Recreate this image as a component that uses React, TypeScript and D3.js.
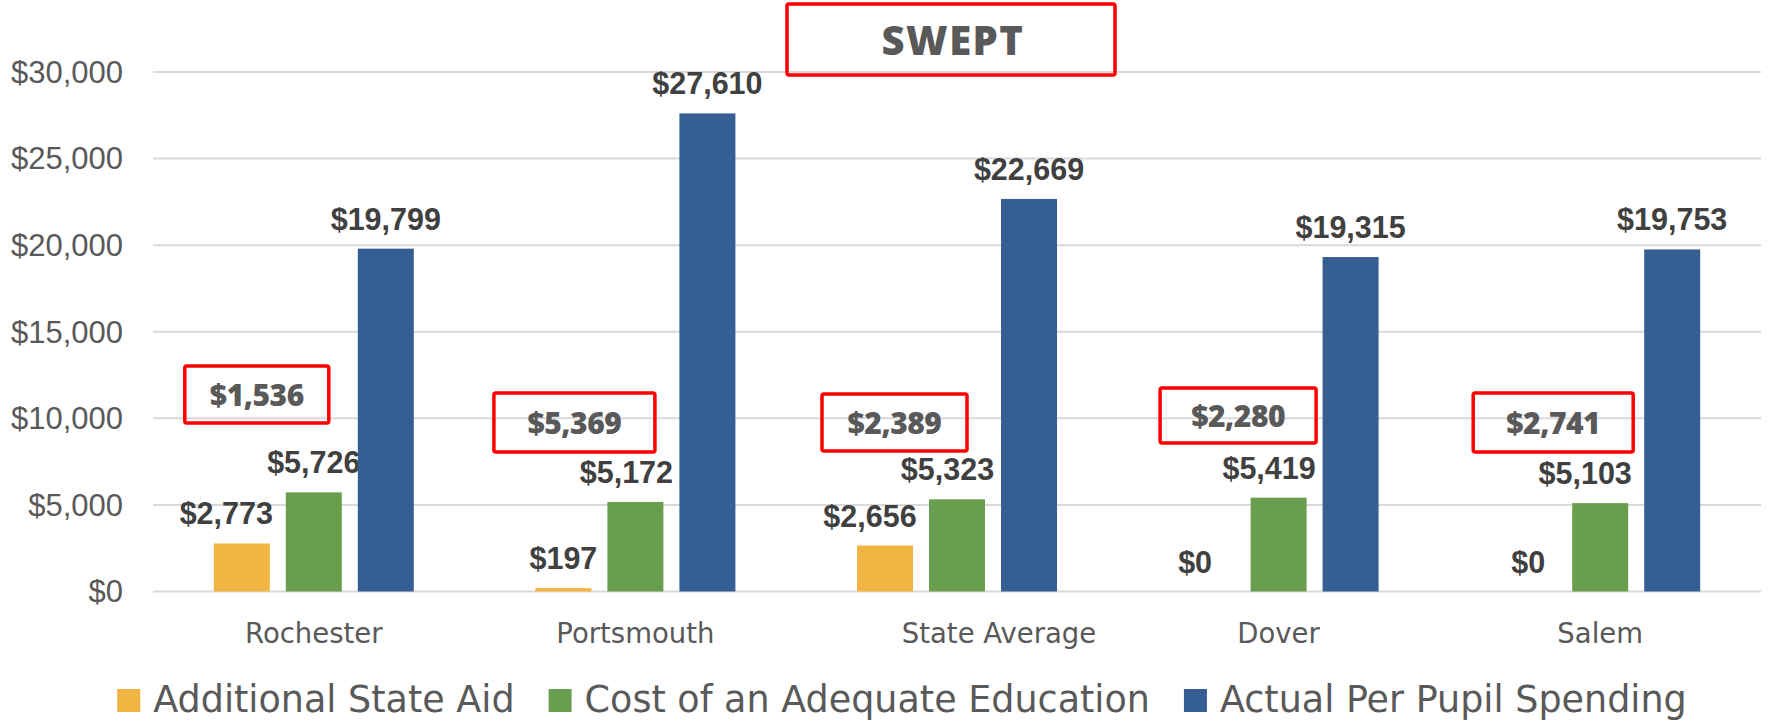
import { useEffect, useRef } from 'react'
import * as d3 from 'd3'

// chart data
const categories = ['Rochester', 'Portsmouth', 'State Average', 'Dover', 'Salem']
const seriesNames = ['Additional State Aid', 'Cost of an Adequate Education', 'Actual Per Pupil Spending']
const additionalAid = [2773, 197, 2656, 0, 0]
const adequateCost = [5726, 5172, 5323, 5419, 5103]
const perPupil = [19799, 27610, 22669, 19315, 19753]
const sweptValues = [1536, 5369, 2389, 2280, 2741]
const yTicks = [0, 5000, 10000, 15000, 20000, 25000, 30000]
const annotationTitle = 'SWEPT'

const W = 1769, H = 723
const P = { left: 153, right: 1761, top: 72, bottom: 591.5 }
const COLORS = ['#F2B443', '#6A9E4F', '#355F93']
const AXIS_FONT = '"Liberation Sans", Arial, sans-serif'
const WIDE_FONT = '"DejaVu Sans", sans-serif'
const BOX_FONT = '"Open Sans", "DejaVu Sans", sans-serif'

// hand-dragged labels / call-out boxes in the original
const labelShift = [
  [-15.5, 0, -15, -11.5, 0],
  [0, -9, -9.5, -9.5, -15],
  [0, 0, 0, 0, 0],
]
const catLabelShift = [0, 0, 42, 0, 0]
const boxLayout = [
  { dx: -57, w: 144, top: 366, h: 57 },
  { dx: -61, w: 161, top: 393, h: 59 },
  { dx: -62.5, w: 145, top: 394, h: 57 },
  { dx: -40.5, w: 156, top: 388, h: 55 },
  { dx: -47, w: 160, top: 393, h: 59 },
]
const titleBox = { x: 787, y: 4, w: 328, h: 71 }

const fmt = d3.format('$,.0f')

export default function App() {
  const svgRef = useRef<SVGSVGElement>(null)

  useEffect(() => {
    document.body.style.margin = '0'
    const svg = d3.select(svgRef.current)
    svg.selectAll('*').remove()

    const series = [additionalAid, adequateCost, perPupil]

    const x0 = d3.scaleBand<string>().domain(categories).range([P.left, P.right])
    const bw0 = x0.bandwidth()
    // 3 bars of 56px with 16px gaps, centred in each band
    const x1 = d3.scaleBand<number>().domain([0, 1, 2])
      .range([bw0 / 2 - 100, bw0 / 2 + 100]).paddingInner(16 / 72).paddingOuter(0)
    const y = d3.scaleLinear().domain([0, 30000]).range([P.bottom, P.top])

    // gridlines
    svg.append('g').selectAll('line').data(yTicks).join('line')
      .attr('x1', P.left).attr('x2', P.right)
      .attr('y1', (d) => y(d)).attr('y2', (d) => y(d))
      .attr('stroke', '#D9D9D9').attr('stroke-width', 2)

    // y labels
    svg.append('g').selectAll('text').data(yTicks).join('text')
      .attr('x', 123).attr('y', (d) => y(d)).attr('dy', '0.35em')
      .attr('text-anchor', 'end').attr('font-family', AXIS_FONT)
      .attr('font-size', 31).attr('fill', '#595959')
      .text((d) => fmt(d))

    // bars + labels
    series.forEach((vals, si) => {
      const g = svg.append('g')
      g.selectAll('rect').data(vals).join('rect')
        .attr('x', (_, i) => x0(categories[i])! + x1(si)!)
        .attr('y', (d) => y(d))
        .attr('width', x1.bandwidth())
        .attr('height', (d) => y(0) - y(d))
        .attr('fill', COLORS[si])
      g.selectAll('text').data(vals).join('text')
        .attr('x', (_, i) => x0(categories[i])! + x1(si)! + x1.bandwidth() / 2 + labelShift[si][i])
        .attr('y', (d) => y(d) - 19)
        .attr('text-anchor', 'middle').attr('font-family', AXIS_FONT)
        .attr('font-weight', 'bold').attr('font-size', 30.5).attr('fill', '#404040')
        .text((d) => fmt(d))
    })

    // category labels
    svg.append('g').selectAll('text').data(categories).join('text')
      .attr('x', (d, i) => x0(d)! + bw0 / 2 + catLabelShift[i])
      .attr('y', 643)
      .attr('text-anchor', 'middle').attr('font-family', WIDE_FONT)
      .attr('font-size', 27.5).attr('fill', '#595959')
      .text((d) => d)

    // red call-out boxes
    const boxes = svg.append('g')
    sweptValues.forEach((v, i) => {
      const b = boxLayout[i]
      const cx = x0(categories[i])! + bw0 / 2 + b.dx
      boxes.append('rect')
        .attr('x', cx - b.w / 2).attr('y', b.top).attr('width', b.w).attr('height', b.h)
        .attr('rx', 2).attr('fill', 'none').attr('stroke', '#FF0000').attr('stroke-width', 3.5)
      boxes.append('text')
        .attr('x', cx).attr('y', b.top + b.h / 2 + 11)
        .attr('text-anchor', 'middle').attr('font-family', BOX_FONT)
        .attr('font-weight', 800).attr('font-size', 30).attr('fill', '#595959')
        .attr('letter-spacing', -0.5)
        .text(fmt(v))
    })
    boxes.append('rect')
      .attr('x', titleBox.x).attr('y', titleBox.y).attr('width', titleBox.w).attr('height', titleBox.h)
      .attr('rx', 2).attr('fill', 'none').attr('stroke', '#FF0000').attr('stroke-width', 3.5)
    boxes.append('text')
      .attr('x', titleBox.x + titleBox.w / 2 + 2).attr('y', 55)
      .attr('text-anchor', 'middle').attr('font-family', BOX_FONT)
      .attr('font-weight', 800).attr('font-size', 40).attr('letter-spacing', 1.5)
      .attr('fill', '#595959')
      .text(annotationTitle)

    // legend, centred around x = 902
    const leg = svg.append('g')
    let cur = 0
    seriesNames.forEach((name, i) => {
      const item = leg.append('g').attr('transform', `translate(${cur},0)`)
      item.append('rect').attr('x', 0).attr('y', 689).attr('width', 23).attr('height', 23).attr('fill', COLORS[i])
      const t = item.append('text')
        .attr('x', 36).attr('y', 712).attr('font-family', WIDE_FONT)
        .attr('font-size', 36.5).attr('fill', '#595959').text(name)
      const tw = (t.node() as SVGTextElement).getComputedTextLength()
      cur += 36 + tw + (i < seriesNames.length - 1 ? 34 : 0)
    })
    leg.attr('transform', `translate(${902 - cur / 2},0)`)
  }, [])

  return <svg ref={svgRef} width={W} height={H} style={{ display: 'block', background: '#fff' }} />
}
